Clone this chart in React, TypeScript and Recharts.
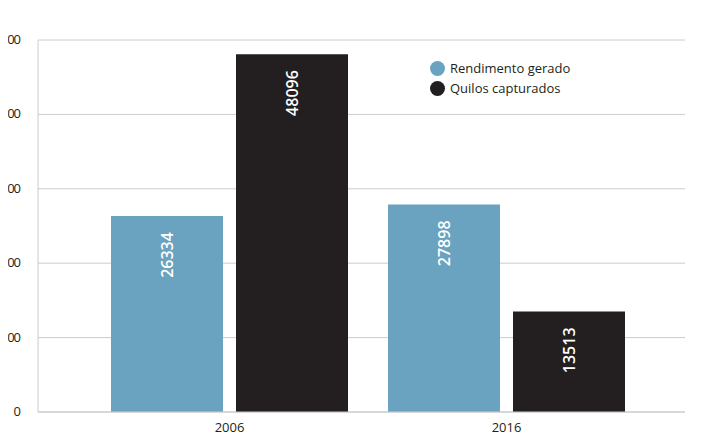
import { BarChart, Bar, XAxis, YAxis, CartesianGrid, LabelList } from "recharts"

const years = ["2006", "2016"]
const rendimento = [26334, 27898]
const quilos = [48096, 13513]
const yTicks = [0, 10000, 20000, 30000, 40000, 50000]

const data = years.map((year, i) => ({ year, rendimento: rendimento[i], quilos: quilos[i] }))

const FONT = "'Open Sans', sans-serif"

function VerticalLabel(props: any) {
  const { x, y, width, value } = props
  const cx = x + width / 2
  const ty = y + 16
  return (
    <text
      x={cx}
      y={ty}
      transform={`rotate(-90 ${cx} ${ty})`}
      textAnchor="end"
      dominantBaseline="central"
      fill="#ffffff"
      fontSize={16}
      fontWeight={600}
      fontFamily={FONT}
    >
      {value}
    </text>
  )
}

// y ticks: narrower digits, like the source font
function YTick(props: any) {
  const { x, y, payload } = props
  return (
    <text x={x} y={y} dy={4} textAnchor="end" fill="#231f20" fontSize={13} fontFamily={FONT} letterSpacing={-1}>
      {payload.value}
    </text>
  )
}

// legend drawn as an overlay so it doesn't eat into the plot offset
function LegendBox() {
  const items = [
    { label: "Rendimento gerado", color: "#6aa3bf" },
    { label: "Quilos capturados", color: "#231f20" },
  ]
  return (
    <div style={{ position: "absolute", top: 50, left: 452, fontFamily: FONT, fontSize: 13, color: "#231f20" }}>
      {items.map((it) => (
        <div key={it.label} style={{ display: "flex", alignItems: "center", height: 20 }}>
          <span style={{ width: 15, height: 15, borderRadius: "50%", background: it.color, marginRight: 5 }} />
          {it.label}
        </div>
      ))}
    </div>
  )
}

export default function App() {
  return (
    <div style={{ position: "relative", marginLeft: -30, width: 737 }}>
      <BarChart
        width={737}
        height={437}
        data={data}
        margin={{ top: 32, right: 30, left: 0, bottom: 3 }}
        barSize={112}
        barGap={13}
      >
        <CartesianGrid horizontal vertical={false} stroke="#cccccc" />
        <XAxis
          dataKey="year"
          padding={{ left: 53, right: 40 }}
          axisLine={{ stroke: "#cccccc" }}
          tickLine={false}
          tickMargin={5}
          height={30}
          tick={{ fontSize: 13, fill: "#231f20", fontFamily: FONT }}
        />
        <YAxis
          width={60}
          domain={[0, 50000]}
          ticks={yTicks}
          interval={0}
          axisLine={{ stroke: "#cccccc" }}
          tickLine={false}
          tickMargin={12}
          tick={<YTick />}
        />
        <Bar dataKey="rendimento" fill="#6aa3bf" isAnimationActive={false}>
          <LabelList dataKey="rendimento" content={<VerticalLabel />} />
        </Bar>
        <Bar dataKey="quilos" fill="#231f20" isAnimationActive={false}>
          <LabelList dataKey="quilos" content={<VerticalLabel />} />
        </Bar>
      </BarChart>
      <LegendBox />
    </div>
  )
}
